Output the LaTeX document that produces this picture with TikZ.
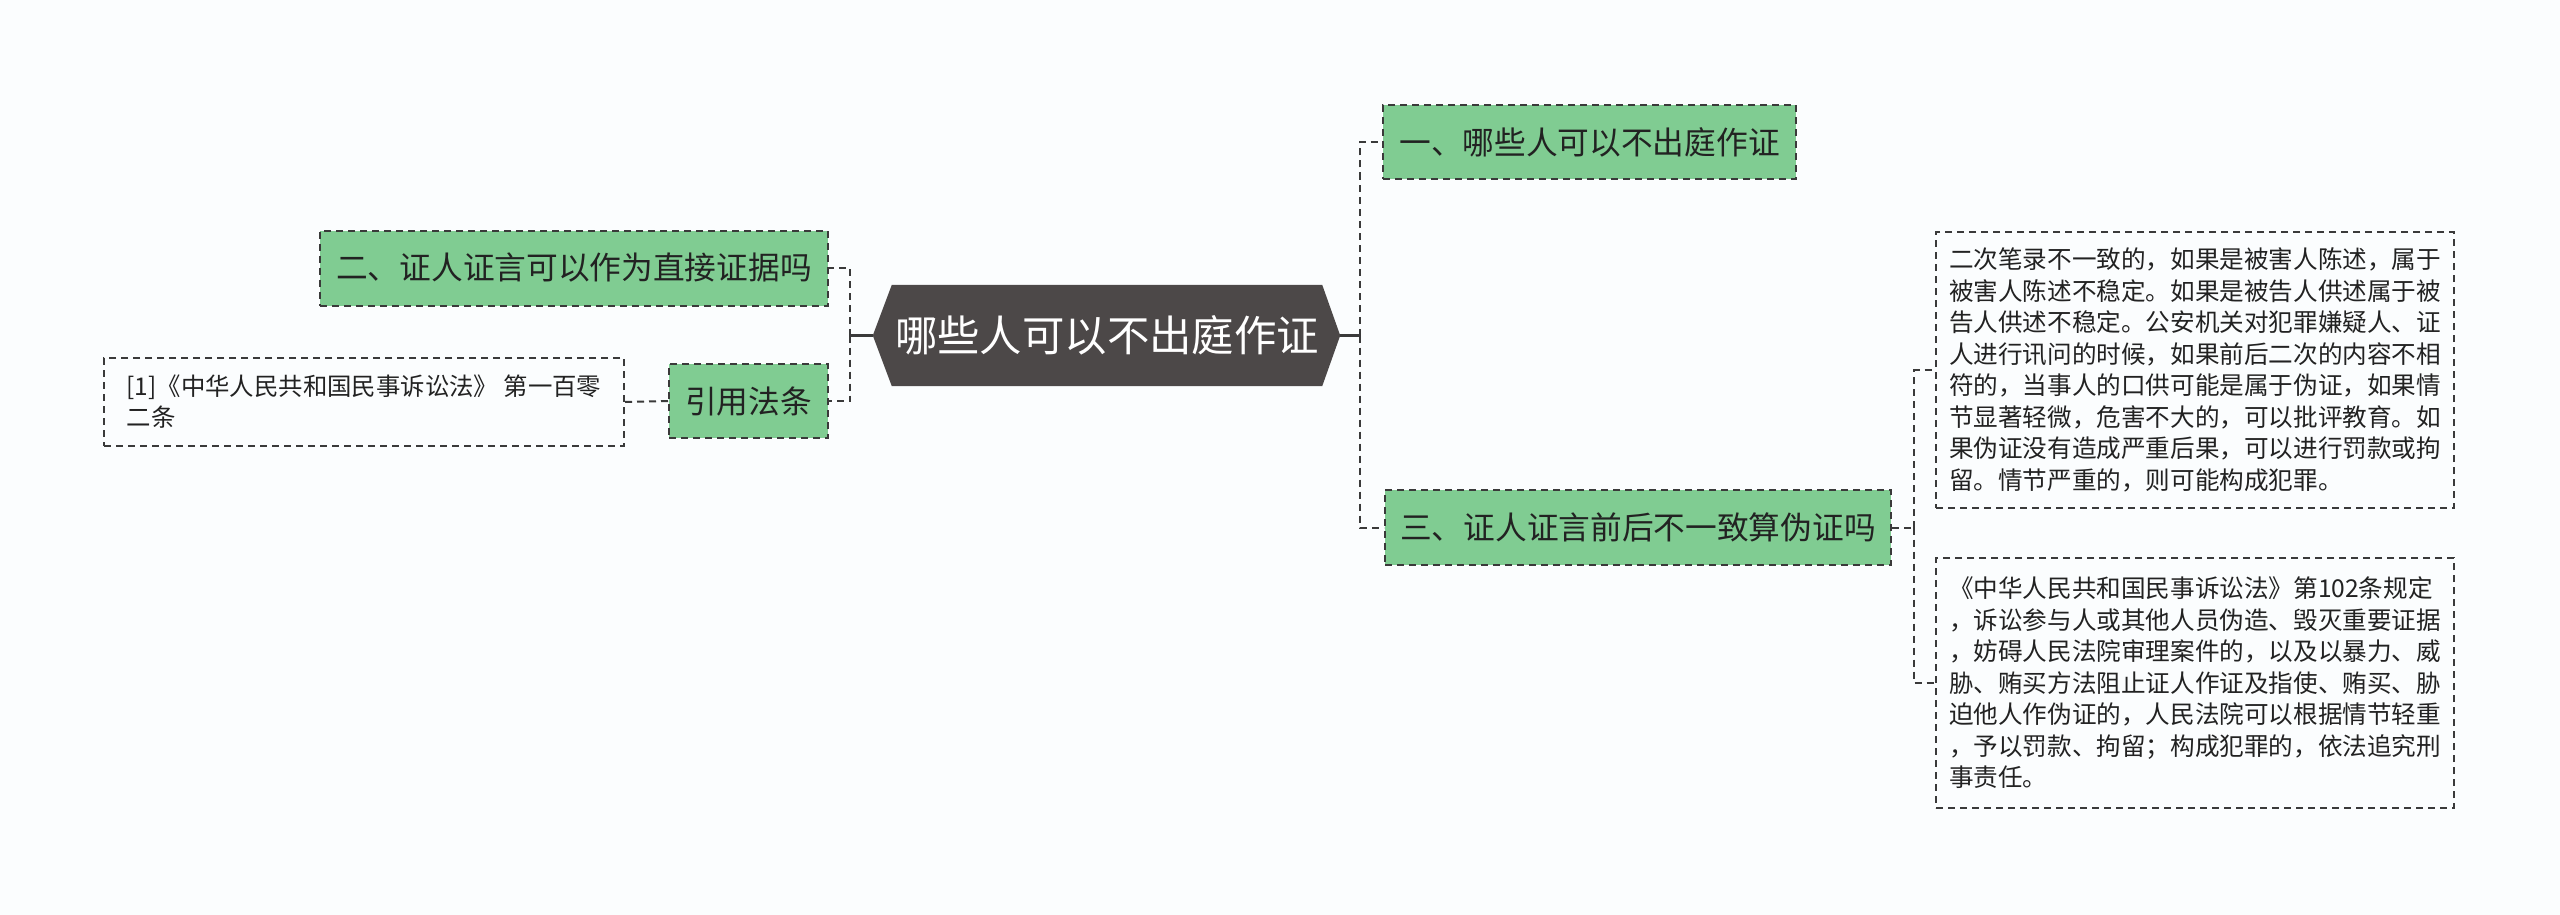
\documentclass[tikz,border=0pt]{standalone}
\usepackage{fontspec}
\newfontfamily\cjk{Noto Sans CJK SC}
\usetikzlibrary{backgrounds}
\definecolor{bgc}{RGB}{251,253,254}
\definecolor{hexc}{RGB}{76,72,72}
\definecolor{greenc}{RGB}{128,204,146}
\definecolor{linec}{RGB}{58,58,58}
\definecolor{txtc}{RGB}{34,34,34}
\tikzset{
  dsh/.style={draw=linec, line width=2pt, dash pattern=on 7pt off 5pt},
  greenbox/.style={dsh, fill=greenc, text=txtc, font=\cjk\fontsize{31.7}{38}\selectfont, inner sep=0pt},
  textbox/.style={dsh, fill=bgc, text=txtc, font=\cjk\fontsize{24.6}{31.5}\selectfont, align=left, inner sep=0pt},
  reftext/.style={dsh, fill=bgc, text=txtc, font=\cjk\fontsize{24.4}{31}\selectfont, align=left, inner sep=0pt},
  conn/.style={draw=linec, line width=2pt, dash pattern=on 7pt off 5pt},
  stub/.style={draw=linec, line width=2.5pt},
  centernode/.style={font=\cjk\fontsize{42.4}{48}\selectfont, text=white, inner sep=0pt},
}
\begin{document}
\begin{tikzpicture}[x=1pt,y=-1pt]
\useasboundingbox (0,0) rectangle (2560,915);
% central
\node[centernode, minimum width=430pt, minimum height=101pt] (c) at (1107,335.5) {哪些人可以不出庭作证};
\coordinate (cL) at ([xshift=-19pt]c.west);
\coordinate (cR) at ([xshift=18pt]c.east);
\begin{scope}[on background layer]
\fill[bgc] (0,0) rectangle (2560,915);
\fill[hexc] (c.north west) -- (c.north east) -- (cR) -- (c.south east) -- (c.south west) -- (cL) -- cycle;
\end{scope}
% first level
\node[greenbox, minimum width=413pt, minimum height=74pt] (b1) at (1589.5,142) {一、哪些人可以不出庭作证};
\node[greenbox, minimum width=506pt, minimum height=75pt] (b3) at (1638,527.5) {三、证人证言前后不一致算伪证吗};
\node[greenbox, minimum width=508pt, minimum height=75pt] (b2) at (574,268) {二、证人证言可以作为直接证据吗};
\node[greenbox, minimum width=159pt, minimum height=74pt] (law) at (748.5,401) {引用法条};
% leaves
\node[reftext, minimum width=520pt, minimum height=88pt] (ref) at (364,402) {[1]《中华人民共和国民事诉讼法》 第一百零\\二条};
\node[textbox, minimum width=518pt, minimum height=276pt] (t1) at (2195,370) {二次笔录不一致的，如果是被害人陈述，属于\\被害人陈述不稳定。如果是被告人供述属于被\\告人供述不稳定。公安机关对犯罪嫌疑人、证\\人进行讯问的时候，如果前后二次的内容不相\\符的，当事人的口供可能是属于伪证，如果情\\节显著轻微，危害不大的，可以批评教育。如\\果伪证没有造成严重后果，可以进行罚款或拘\\留。情节严重的，则可能构成犯罪。};
\node[textbox, minimum width=518pt, minimum height=250pt] (t2) at (2195,683) {《中华人民共和国民事诉讼法》第102条规定\\，诉讼参与人或其他人员伪造、毁灭重要证据\\，妨碍人民法院审理案件的，以及以暴力、威\\胁、贿买方法阻止证人作证及指使、贿买、胁\\迫他人作伪证的，人民法院可以根据情节轻重\\，予以罚款、拘留；构成犯罪的，依法追究刑\\事责任。};
% connectors
\coordinate (jL) at (850,335.5);
\coordinate (jR) at (1360,335.5);
\coordinate (j3) at (1914,527.5);
\draw[stub] (cL) -- (jL);
\draw[stub] (cR) -- (jR);
\draw[conn] (jL) |- (b2.east);
\draw[conn] (jL) |- (law.east);
\draw[conn] (jR) |- (b1.west);
\draw[conn] (jR) |- (b3.west);
\draw[conn] (law.west) -- (ref.east);
\draw[conn] (b3.east) -- (j3);
\draw[conn] (j3) |- (t1.west);
\draw[conn] (j3) |- (t2.west);
\end{tikzpicture}
\end{document}
